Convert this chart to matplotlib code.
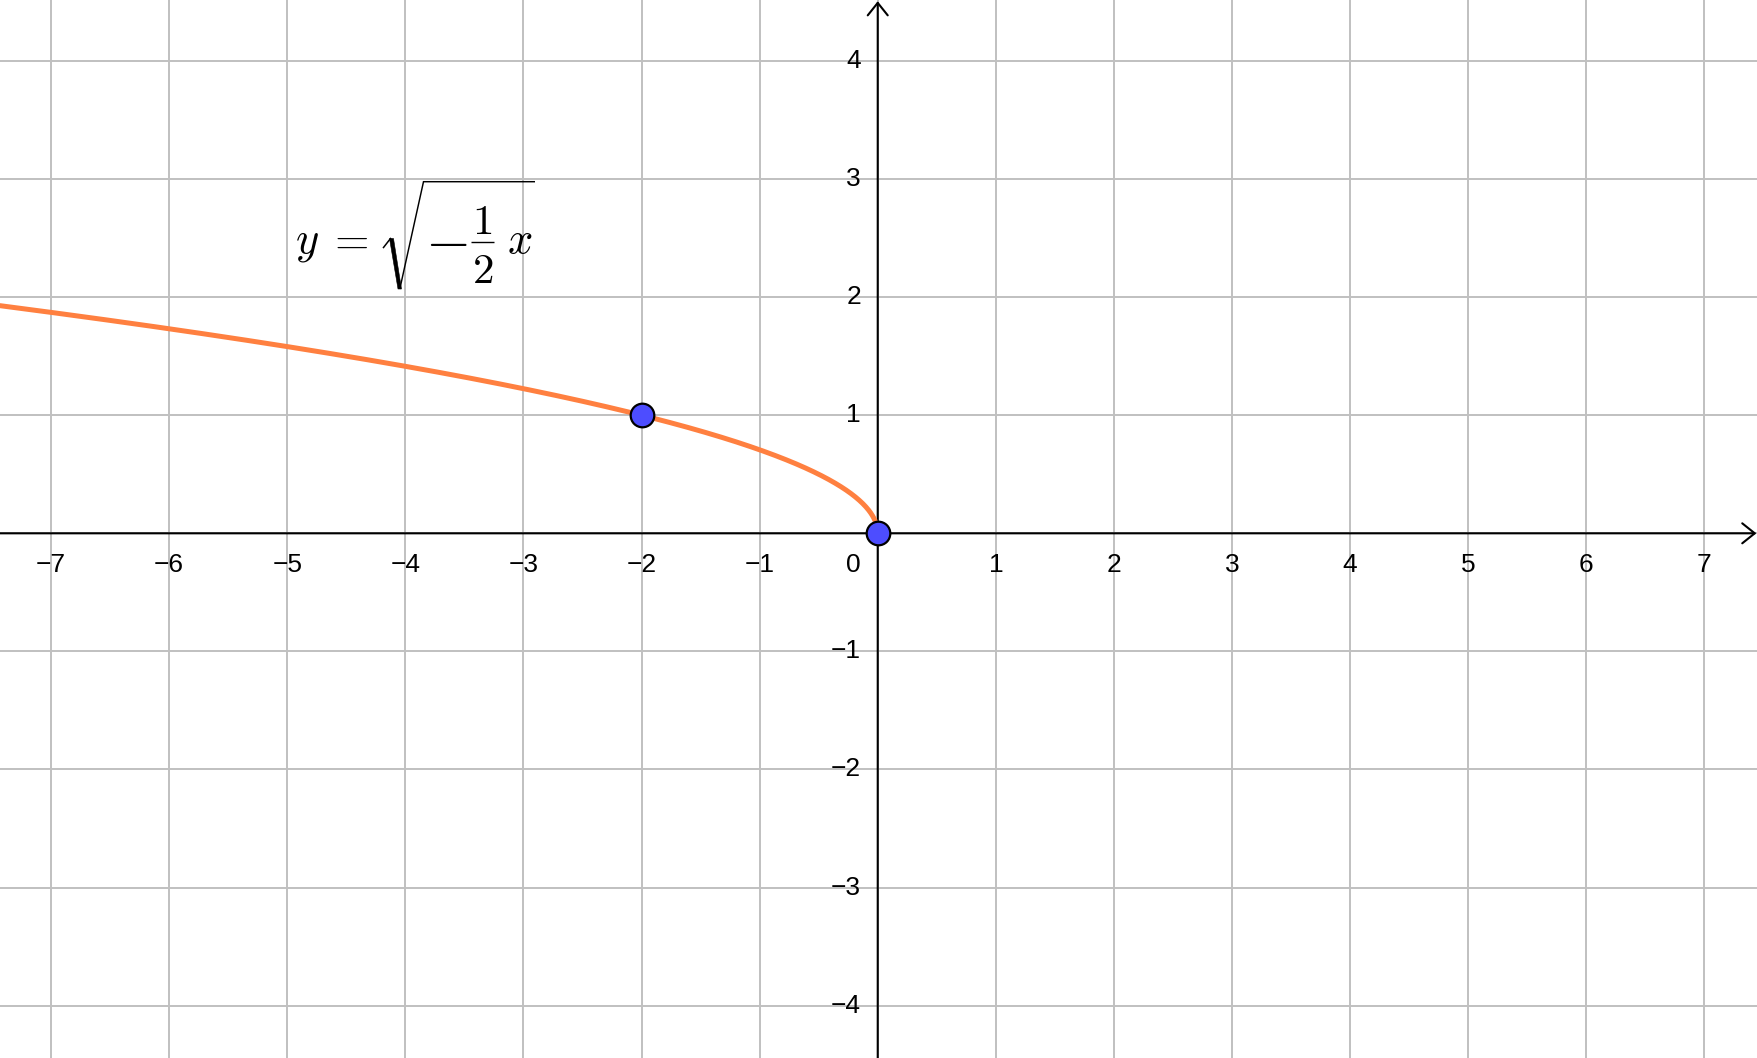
import numpy as np
import matplotlib
matplotlib.use("Agg")
import matplotlib.pyplot as plt
from matplotlib.patches import Polygon

# ---- data ----
x_ticks = [-7, -6, -5, -4, -3, -2, -1, 1, 2, 3, 4, 5, 6, 7]
y_ticks = [-4, -3, -2, -1, 1, 2, 3, 4]
coef = -0.5                      # y = sqrt(coef * x)
point_x = [-2, 0]
point_y = [1, 0]

xmin, xmax = -7.432, 7.445
ymin, ymax = -4.443, 4.516
W, H = 1757, 1058

plt.rcParams['mathtext.fontset'] = 'cm'
fig = plt.figure(figsize=(W / 100, H / 100), dpi=100)
ax = fig.add_axes([0, 0, 1, 1])
ax.set_xlim(xmin, xmax)
ax.set_ylim(ymin, ymax)
ax.axis('off')


def P(px, py):
    """canvas pixel position -> data coordinates (for the label layout)"""
    return (xmin + px / W * (xmax - xmin), ymax - py / H * (ymax - ymin))


grid_c = '#c0c0c0'
for gx in range(-7, 8):
    ax.axvline(gx, color=grid_c, lw=1.4, zorder=1)
for gy in range(-4, 5):
    ax.axhline(gy, color=grid_c, lw=1.4, zorder=1)

# axes with arrows
arr = dict(arrowstyle='->,head_length=0.45,head_width=0.36', color='black',
           lw=1.5, shrinkA=0, shrinkB=0, mutation_scale=20)
ax.annotate('', xy=(xmax - 0.005, 0), xytext=(xmin, 0), arrowprops=arr, zorder=3)
ax.annotate('', xy=(0, ymax - 0.01), xytext=(0, ymin), arrowprops=arr, zorder=3)

lab_font = dict(family='Liberation Sans', fontsize=19, color='black')
for t in x_ticks:
    ax.annotate('\u2212' + str(abs(t)) if t < 0 else str(t), xy=(t, 0),
                xytext=(0, -14), textcoords='offset points',
                ha='center', va='top', **lab_font)
for t in y_ticks:
    ax.annotate('\u2212' + str(abs(t)) if t < 0 else str(t), xy=(0, t),
                xytext=(-12, 0), textcoords='offset points',
                ha='right', va='center', **lab_font)
ax.annotate('0', xy=(0, 0), xytext=(-12, -14), textcoords='offset points',
            ha='right', va='top', **lab_font)

# curve
xs = np.linspace(xmin, 0, 2000)
ys = np.sqrt(coef * xs)
ax.plot(xs, ys, color='#ff8040', lw=3.6, zorder=4, solid_capstyle='round')

# points
ax.plot(point_x, point_y, 'o', ms=17, mfc='#4d4dff', mec='black', mew=1.6,
        zorder=6, clip_on=False)

# ---- equation label  y = sqrt(-1/2 x) ----
fs = 32
eq = dict(fontsize=fs, color='black', zorder=5)
ax.text(*P(295, 253), r'$y$', ha='left', va='baseline', **eq)
ax.text(*P(348.3, 253), r'$=$', ha='center', va='baseline', **eq)
ax.text(*P(446, 257.5), '$\u2212$', ha='center', va='baseline',
        fontsize=42, color='black', zorder=5)
ax.text(*P(482.5, 234), r'$1$', ha='center', va='baseline', fontsize=31,
        color='black', zorder=5)
ax.text(*P(482.5, 283), r'$2$', ha='center', va='baseline', fontsize=31,
        color='black', zorder=5)
ax.text(*P(507, 253), r'$x$', ha='left', va='baseline', **eq)
# fraction bar
fb = np.array([P(471, 242), P(494, 242)])
ax.plot(fb[:, 0], fb[:, 1], color='black', lw=1.0, zorder=5,
        solid_capstyle='butt')
# radical sign
tick = np.array([P(383.5, 247.5), P(390.5, 238.5)])
ax.plot(tick[:, 0], tick[:, 1], color='black', lw=1.1, zorder=5)
ax.add_patch(Polygon([P(389.5, 238.5), P(393.5, 238.5), P(401.5, 289),
                      P(398, 289)], closed=True, fc='black', ec='black',
                     lw=0.4, zorder=5))
rad = np.array([P(399.8, 289), P(423.5, 181.7), P(535, 181.7)])
ax.plot(rad[:, 0], rad[:, 1], color='black', lw=1.05, zorder=5,
        solid_joinstyle='miter', solid_capstyle='butt')

fig.savefig('out.png', dpi=100)
